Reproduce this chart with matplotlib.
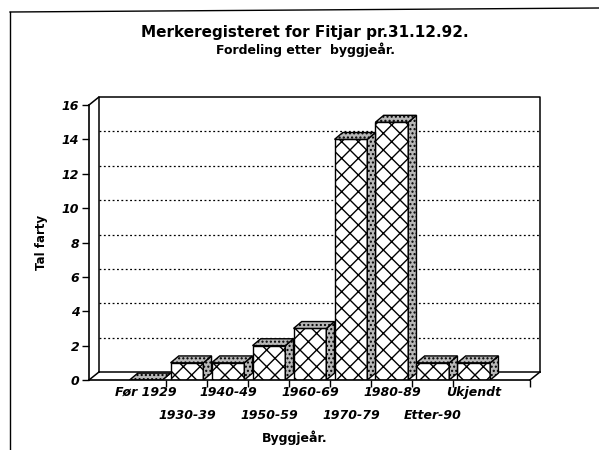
import numpy as np
import matplotlib
matplotlib.use("Agg")
import matplotlib.pyplot as plt
from matplotlib.patches import Polygon
from matplotlib.lines import Line2D

# data
categories = ["Før 1929", "1930-39", "1940-49", "1950-59", "1960-69",
              "1970-79", "1980-89", "Etter-90", "Ukjendt"]
counts = [0, 1, 1, 2, 3, 14, 15, 1, 1]
y_ticks = [0, 2, 4, 6, 8, 10, 12, 14, 16]

fig = plt.figure(figsize=(5.99, 4.5), dpi=100)
ax = fig.add_axes([89 / 599, 70 / 450, 441 / 599, 275 / 450])

x0, x1 = -1.39, 9.37
ax.set_xlim(x0, x1)
ax.set_ylim(0, 16)

# fake 3D depth offsets (x in categories, y in values)
wdx, wdy = 0.24, 0.46   # back wall
bdx, bdy = 0.2, 0.4     # bar depth
bw = 0.8
stipple = "#b8b8b8"

# dotted gridlines on the back wall
for v in y_ticks[1:-1]:
    ax.plot([x0 + wdx, x1 + wdx], [v + wdy, v + wdy], color="k", lw=0.9,
            ls=(0, (1.5, 2.0)), clip_on=False, zorder=1)

# box: back wall, left wall and floor edges
box = dict(color="k", lw=1.1, clip_on=False, zorder=1)
ax.plot([x0 + wdx, x0 + wdx, x1 + wdx, x1 + wdx],
        [wdy, 16 + wdy, 16 + wdy, wdy], **box)
ax.plot([x0 + wdx, x1 + wdx], [wdy, wdy], **box)
ax.plot([x0, x0 + wdx], [16, 16 + wdy], **box)
ax.plot([x0, x0 + wdx], [0, wdy], **box)
ax.plot([x1, x1 + wdx], [0, wdy], **box)

# bars: front faces crosshatched, tops and sides stippled
x = np.arange(len(categories))
ax.bar(x, counts, width=bw, bottom=0, facecolor="white", edgecolor="k",
       hatch="xx", linewidth=1.0, zorder=3)
for i, v in zip(x, counts):
    left = i - bw / 2
    right = i + bw / 2
    top = Polygon([(left, v), (left + bdx, v + bdy), (right + bdx, v + bdy),
                   (right, v)], closed=True, facecolor=stipple, edgecolor="k",
                  hatch="....", lw=1.0, zorder=3)
    side = Polygon([(right, 0), (right + bdx, bdy), (right + bdx, v + bdy),
                    (right, v)], closed=True, facecolor=stipple, edgecolor="k",
                   hatch="....", lw=1.0, zorder=3)
    ax.add_patch(side)
    ax.add_patch(top)

# front axes
for s in ["top", "right"]:
    ax.spines[s].set_visible(False)
for s in ["left", "bottom"]:
    ax.spines[s].set_linewidth(1.2)
    ax.spines[s].set_zorder(4)

ax.set_yticks(y_ticks)
ax.set_yticklabels([str(t) for t in y_ticks], fontsize=9,
                   fontweight="bold", fontstyle="italic")
ax.set_xticks(list(np.arange(0.5, 8.0, 1.0)) + [x1])
ax.set_xticklabels([])
ax.tick_params(direction="out", length=5, width=1.0, pad=2)

# category labels in two staggered rows
trans = ax.get_xaxis_transform()
for i, lab in enumerate(categories):
    yy = -0.045 if i % 2 == 0 else -0.128
    ax.text(i, yy, lab, transform=trans, ha="center", va="center",
            fontsize=9, fontweight="bold", fontstyle="italic")

ax.set_ylabel("Tal farty", fontsize=8.5, fontweight="bold", labelpad=10)
fig.text(295 / 599, 1 - 438 / 450, "Byggjeår.", ha="center", va="center",
         fontsize=9, fontweight="bold")

fig.text(305 / 599, 1 - 33 / 450, "Merkeregisteret for Fitjar pr.31.12.92.",
         ha="center", va="center", fontsize=11, fontweight="bold")
fig.text(305 / 599, 1 - 50 / 450, "Fordeling etter  byggjeår.",
         ha="center", va="center", fontsize=9, fontweight="bold")

# page frame from the scan
fig.add_artist(Line2D([10 / 599, 10 / 599], [0, 1 - 12 / 450],
                      transform=fig.transFigure, color="k", lw=1.0))
fig.add_artist(Line2D([10 / 599, 1], [1 - 12 / 450, 1 - 8 / 450],
                      transform=fig.transFigure, color="k", lw=1.0))

fig.savefig("out.png", dpi=100)
